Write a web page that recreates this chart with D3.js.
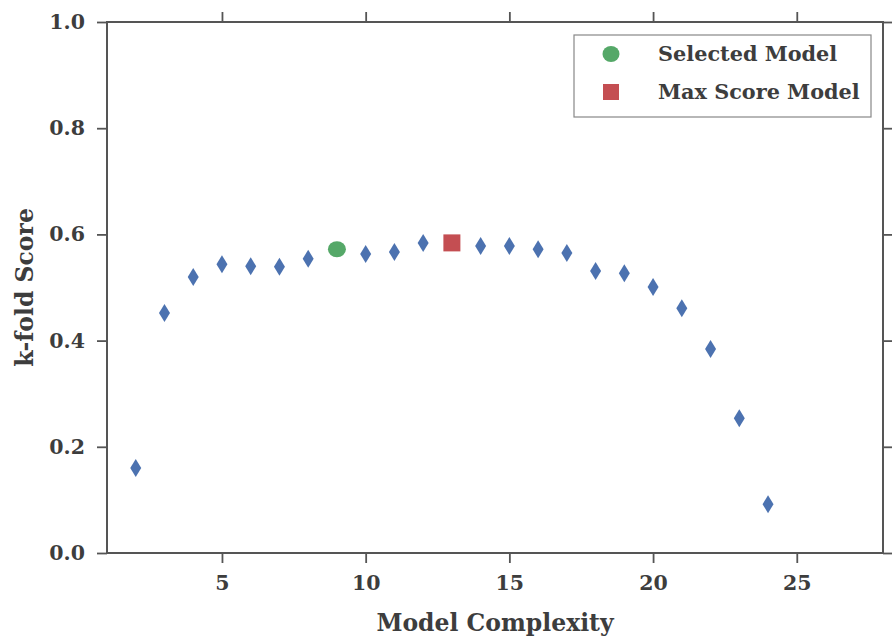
<!DOCTYPE html>
<html>
<head>
<meta charset="utf-8">
<script src="https://cdn.jsdelivr.net/npm/d3@7"></script>
<style>
  body { margin: 0; background: #fff; }
  text { font-family: "DejaVu Serif", serif; font-weight: bold; fill: #3d3d3d; }
</style>
</head>
<body>
<script>
// model complexity vs k-fold score
var complexity = [2, 3, 4, 5, 6, 7, 8, 10, 11, 12, 14, 15, 16, 17, 18, 19, 20, 21, 22, 23, 24];
var scores = [0.160, 0.452, 0.520, 0.544, 0.540, 0.539, 0.554, 0.563, 0.567, 0.584, 0.578, 0.578, 0.572, 0.565, 0.531, 0.527, 0.501, 0.461, 0.384, 0.254, 0.092];
var selected = [9, 0.572];
var maxScore = [13, 0.584];
var xTicks = [5, 10, 15, 20, 25];
var yTicks = [0.0, 0.2, 0.4, 0.6, 0.8, 1.0];
var legendLabels = ["Selected Model", "Max Score Model"];

var W = 892, H = 644;
var m = {left: 107, right: 9, top: 22, bottom: 91};

var svg = d3.select("body").append("svg")
  .attr("width", W)
  .attr("height", H);

var x = d3.scaleLinear().domain([1, 28]).range([m.left, W - m.right]);
var y = d3.scaleLinear().domain([0, 1]).range([H - m.bottom, m.top]);

var axisColor = "#555";

function styleAxis(g, noLabels) {
  g.select(".domain").remove();
  g.selectAll(".tick line").attr("stroke", axisColor).attr("stroke-width", 1.8);
  g.selectAll(".tick text").style("font-size", "20.5px").attr("fill", "#3d3d3d");
  if (noLabels) g.selectAll(".tick text").remove();
}

svg.append("g")
  .attr("transform", "translate(0," + y(0) + ")")
  .call(d3.axisBottom(x).tickValues(xTicks).tickSize(10).tickPadding(12).tickFormat(d3.format("d")))
  .call(styleAxis);

svg.append("g")
  .attr("transform", "translate(0," + y(1) + ")")
  .call(d3.axisTop(x).tickValues(xTicks).tickSize(10))
  .call(styleAxis, true);

svg.append("g")
  .attr("transform", "translate(" + x(1) + ",0)")
  .call(d3.axisLeft(y).tickValues(yTicks).tickSize(10).tickPadding(12).tickFormat(d3.format(".1f")))
  .call(styleAxis);

svg.append("g")
  .attr("transform", "translate(" + x(28) + ",0)")
  .call(d3.axisRight(y).tickValues(yTicks).tickSize(10))
  .call(styleAxis, true);

// frame
svg.append("rect")
  .attr("x", x(1)).attr("y", y(1))
  .attr("width", x(28) - x(1)).attr("height", y(0) - y(1))
  .attr("fill", "none")
  .attr("stroke", axisColor)
  .attr("stroke-width", 2);

// diamonds
var pts = complexity.map(function(c, i) { return [c, scores[i]]; });
svg.selectAll("path.pt")
  .data(pts)
  .enter().append("path")
  .attr("class", "pt")
  .attr("d", "M0,-9L5.5,0L0,9L-5.5,0Z")
  .attr("transform", function(d) { return "translate(" + x(d[0]) + "," + y(d[1]) + ")"; })
  .style("fill", "#4C72B0");

svg.append("ellipse")
  .attr("cx", x(selected[0])).attr("cy", y(selected[1]))
  .attr("rx", 9).attr("ry", 8)
  .style("fill", "#55A868");

svg.append("rect")
  .attr("x", x(maxScore[0]) - 8.5).attr("y", y(maxScore[1]) - 8.5)
  .attr("width", 17).attr("height", 17)
  .style("fill", "#C44E52");

// legend
var lg = svg.append("g").attr("transform", "translate(574,35)");
lg.append("rect")
  .attr("width", 297).attr("height", 82)
  .attr("fill", "#fff")
  .attr("stroke", "#888")
  .attr("stroke-width", 1.2);
lg.append("ellipse").attr("cx", 37).attr("cy", 19).attr("rx", 8.5).attr("ry", 8).style("fill", "#55A868");
lg.append("rect").attr("x", 29).attr("y", 49).attr("width", 16).attr("height", 16).style("fill", "#C44E52");
lg.selectAll("text.lab")
  .data(legendLabels)
  .enter().append("text")
  .attr("class", "lab")
  .attr("x", 84)
  .attr("y", function(d, i) { return 26 + i * 38; })
  .style("font-size", "20.8px")
  .text(function(d) { return d; });

// axis titles
svg.append("text")
  .attr("x", (x(1) + x(28)) / 2)
  .attr("y", 631)
  .attr("text-anchor", "middle")
  .style("font-size", "23.5px")
  .text("Model Complexity");

svg.append("text")
  .attr("transform", "translate(33," + (y(0.5)) + ") rotate(-90)")
  .attr("text-anchor", "middle")
  .style("font-size", "23.5px")
  .text("k-fold Score");
</script>
</body>
</html>
